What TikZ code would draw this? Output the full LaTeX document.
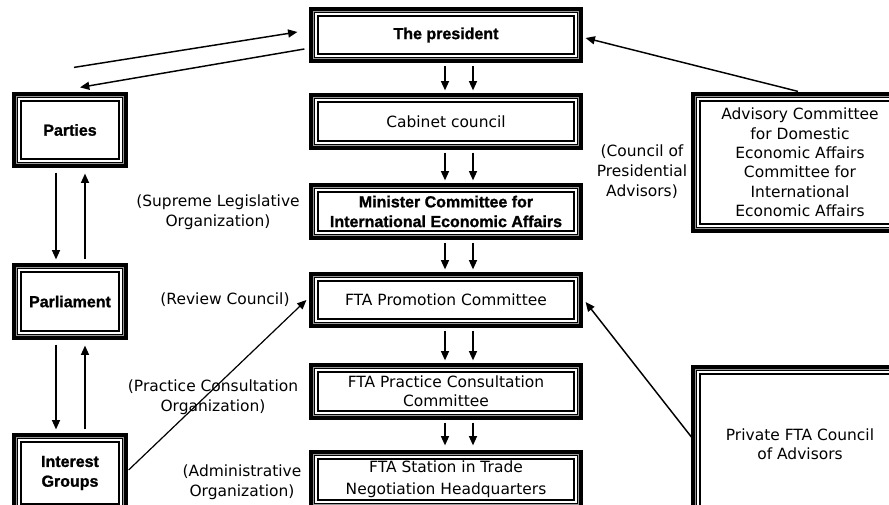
\documentclass[tikz,border=0pt]{standalone}
\usepackage{fontspec}
\setmainfont{DejaVu Sans}
\newfontfamily\hbf{Liberation Sans}[BoldFeatures={FakeBold=1.2}]
\usetikzlibrary{arrows.meta,calc}
\begin{document}
\begin{tikzpicture}[x=0.75pt,y=-0.75pt,
  box/.style={rectangle, inner sep=0pt, line join=miter, fill=white, draw=black,
    line width=0.9pt, align=center,
    font=\fontsize{11.6}{14.6}\selectfont,
    preaction={draw=black, line width=13.5pt},
    preaction={draw=black!40, line width=7.5pt},
    preaction={draw=black, line width=6pt},
    preaction={draw=white, line width=4pt}},
  bbox/.style={box, font=\hbf\bfseries\fontsize{12}{14.8}\selectfont},
  lbl/.style={align=center, inner sep=0pt, font=\fontsize{11.6}{15}\selectfont},
  arr/.style={line width=1.1pt, -{Triangle[length=7pt,width=6pt]}},
]
\useasboundingbox (0,0) rectangle (889,505);
\clip (0,0) rectangle (889,505);
\fill[white] (0,0) rectangle (889,505);

% centre column
\node[bbox, minimum width=192pt, minimum height=28.5pt] (pres) at (446,35) {The president};
\node[box, minimum width=192pt, minimum height=29.25pt] (cab) at (446,121.5) {Cabinet council};
\node[bbox, minimum width=192pt, minimum height=29.25pt] (min) at (446,211.5) {Minister Committee for\\International Economic Affairs};
\node[box, minimum width=192pt, minimum height=28.5pt] (promo) at (446,300) {FTA Promotion Committee};
\node[box, minimum width=192pt, minimum height=29.25pt] (pract) at (446,391.5) {FTA Practice Consultation\\Committee};
\node[box, minimum width=192pt, minimum height=30.75pt] (stat) at (446,479.5) {FTA Station in Trade\\[2pt]Negotiation Headquarters};

% left column
\node[bbox, minimum width=73.5pt, minimum height=43.5pt] (parties) at (70,130) {Parties};
\node[bbox, minimum width=73.5pt, minimum height=44.25pt] (parl) at (70,301.5) {Parliament};
\node[bbox, minimum width=73.5pt, minimum height=46.5pt] (intg) at (70,473) {Interest\\Groups};

% right column
\node[box, minimum width=150pt, minimum height=92.25pt] (adv) at (800,162.5) {Advisory Committee\\for Domestic\\Economic Affairs\\Committee for\\International\\Economic Affairs};
\node[box, minimum width=150pt, minimum height=105pt] (priv) at (800,444) {Private FTA Council\\of Advisors};

% labels
\node[lbl] (l1) at (218,212) {(Supreme Legislative\\Organization)};
\node[lbl] (l2) at (225,300) {(Review Council)};
\node[lbl] (l3) at (213,397) {(Practice Consultation\\Organization)};
\node[lbl] (l4) at (242,482) {(Administrative\\Organization)};
\node[lbl] (l5) at (642,172) {(Council of\\Presidential\\Advisors)};

% centre arrows
\foreach \a/\b/\e in {pres/cab/-11,cab/min/-11,min/promo/-11,promo/pract/-11,pract/stat/-13}{
  \foreach \dx in {-1,27}{
    \draw[arr] ($(\a.south)+(\dx,11)$) -- ($(\b.north)+(\dx,\e)$);
  }
}
% left arrows
\foreach \a/\b in {parties/parl,parl/intg}{
  \draw[arr] ($(\a.south)+(-14,13)$) -- ($(\b.north)+(-14,-12)$);
  \draw[arr] ($(\b.north)+(15,-12)$) -- ($(\a.south)+(15,14)$);
}
% diagonal arrows
\draw[arr] ($(parties.north)+(4,-33)$) -- ($(pres.west)+(-20,-3)$);
\draw[arr] ($(pres.west)+(-13,14)$) -- ($(parties.north)+(10,-13)$);
\draw[arr] ($(adv.north)+(-2,-9)$) -- ($(pres.east)+(11,3)$);
\draw[arr, line width=0.9pt] ($(intg.east)+(9,-3)$) -- ($(promo.west)+(-11,0)$);
\draw[arr] ($(priv.west)+(-8,-7)$) -- ($(promo.east)+(11,2)$);
\end{tikzpicture}
\end{document}
